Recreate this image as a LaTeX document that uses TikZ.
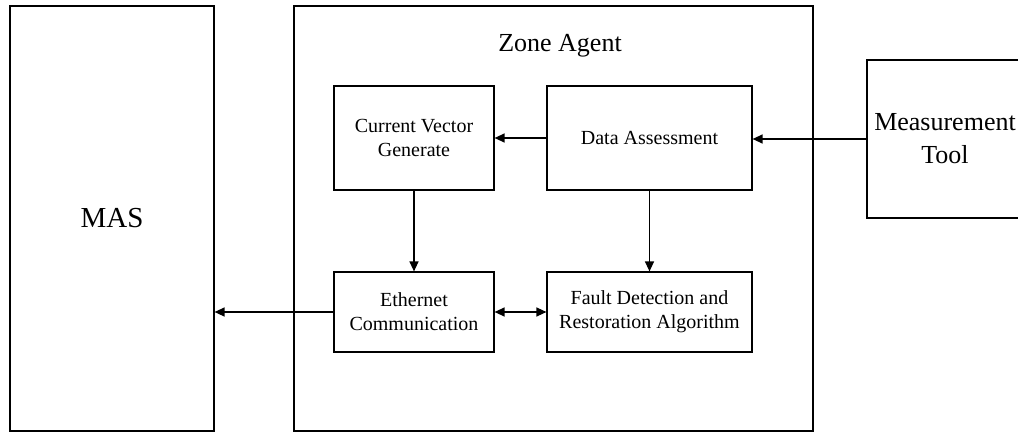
\documentclass[tikz,border=0pt]{standalone}
\usepackage{fontspec}
\setmainfont{Liberation Serif}
\usetikzlibrary{arrows.meta,calc}
\begin{document}
\begin{tikzpicture}[x=1pt,y=1pt,
  box/.style={draw=black,line width=1.2pt,fill=white,rectangle,inner sep=0pt,align=center},
  inner/.style={box,font=\fontsize{20}{24}\selectfont},
  conn/.style={line width=1.3pt,-{Triangle[length=10pt,width=9pt]}},
  dconn/.style={line width=1.3pt,{Triangle[length=10pt,width=9pt]}-{Triangle[length=10pt,width=9pt]}}]
\useasboundingbox (0,0) rectangle (1018,432);
\clip (0,0) rectangle (1018,432);
\fill[white] (0,0) rectangle (1018,432);
\node[box,minimum width=204pt,minimum height=425pt,font=\fontsize{29}{34}\selectfont] (mas) at (112,213.5) {MAS};
\node[box,minimum width=519pt,minimum height=425pt] (zone) at (553.5,213.5) {};
\node[font=\fontsize{26}{31}\selectfont,inner sep=0pt] (zlabel) at (560,386) {Zone Agent};
\node[inner,minimum width=160pt,minimum height=104pt] (cvg) at (414,294) {Current Vector\\Generate};
\node[inner,minimum width=205pt,minimum height=104pt] (da) at (649.5,294) {Data Assessment};
\node[inner,minimum width=160pt,minimum height=80pt] (ecom) at (414,120) {Ethernet\\Communication};
\node[inner,minimum width=205pt,minimum height=80pt] (fdra) at (649.5,120) {Fault Detection and\\Restoration Algorithm};
\node[box,minimum width=156pt,minimum height=158pt,font=\fontsize{26}{33}\selectfont] (mt) at (945,293) {Measurement\\Tool};
\draw[conn] (mt.west) -- (mt.west -| da.east);
\draw[conn] (da.west) -- (cvg.east);
\draw[conn] (cvg.south) -- (ecom.north);
\draw[conn] (da.south) -- (fdra.north);
\draw[dconn] (ecom.east) -- (fdra.west);
\draw[conn] (ecom.west) -- (ecom.west -| mas.east);
\end{tikzpicture}
\end{document}
